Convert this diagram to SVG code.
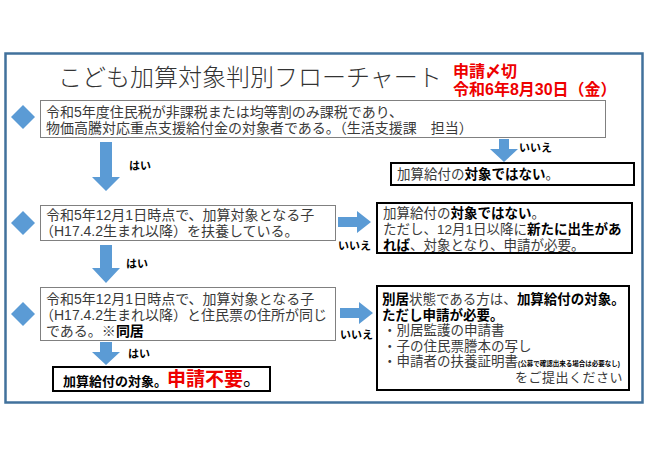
<svg xmlns="http://www.w3.org/2000/svg" width="650" height="459" viewBox="0 0 650 459">
<style>
text{font-family:"Liberation Sans","Noto Sans CJK JP",sans-serif;fill:#3a3a3a;font-size:14px}
.b{font-weight:bold;fill:#000}
.m{font-size:13.5px}
.q{fill:none;stroke:#808080;stroke-width:1}
.k{fill:#fff;stroke:#000;stroke-width:2}
.dia{fill:#5b9bd5}
.arr{fill:#5b9bd5}
.lab{font-size:11px;font-weight:bold;fill:#000}
.red{fill:#ee0000;font-weight:bold}
</style>
<rect width="650" height="459" fill="#fff"/>
<rect x="5.5" y="53.5" width="637" height="349" fill="none" stroke="#41719c" stroke-width="2.5"/>
<g id="title">
<text x="58" y="86" style="font-size:24px;font-weight:300;fill:#333">こども加算対象判別フローチャート</text>
<text x="453" y="77" class="red" style="font-size:16px">申請〆切</text>
<text x="453" y="95" class="red" style="font-size:16px">令和6年8月30日（金）</text>
</g>
<g id="q1">
<path class="dia" d="M23 105 L35 117 L23 129 L11 117 Z"/>
<rect class="q" x="40.5" y="100.5" width="565" height="37"/>
<text x="46" y="117">令和5年度住民税が非課税または均等割のみ課税であり、</text>
<text x="46" y="133">物価高騰対応重点支援給付金の対象者である。（生活支援課　担当）</text>
</g>
<g id="r1">
<rect class="k" x="391" y="163" width="243" height="22"/>
<text x="397" y="179" class="m">加算給付の<tspan class="b">対象ではない</tspan>。</text>
</g>
<g id="q2">
<path class="dia" d="M23 211 L35 223 L23 235 L11 223 Z"/>
<rect class="q" x="40.5" y="205.5" width="295" height="35"/>
<text x="46" y="220">令和5年12月1日時点で、加算対象となる子</text>
<text x="40" y="236">（H17.4.2生まれ以降）を扶養している。</text>
</g>
<g id="r2">
<rect class="k" x="377" y="203" width="255" height="50"/>
<text x="383" y="218" class="m">加算給付の<tspan class="b">対象ではない</tspan>。</text>
<text x="383" y="234" class="m">ただし、12月1日以降に<tspan class="b">新たに出生があ</tspan></text>
<text x="383" y="250" class="m"><tspan class="b">れば</tspan>、対象となり、申請が必要。</text>
</g>
<g id="q3">
<path class="dia" d="M23 302 L35 314 L23 326 L11 314 Z"/>
<rect class="q" x="40.5" y="287.5" width="295" height="53"/>
<text x="46" y="304">令和5年12月1日時点で、加算対象となる子</text>
<text x="40" y="320">（H17.4.2生まれ以降）と住民票の住所が同じ</text>
<text x="46" y="336">である。※<tspan class="b">同居</tspan></text>
</g>
<g id="r3">
<rect class="k" x="377" y="286" width="252" height="104"/>
<text x="382" y="304" class="m"><tspan class="b">別居</tspan>状態である方は、<tspan class="b">加算給付の対象。</tspan></text>
<text x="382" y="319.5" class="m b">ただし申請が必要。</text>
<text x="383" y="335" class="m">・別居監護の申請書</text>
<text x="383" y="350.5" class="m">・子の住民票謄本の写し</text>
<text x="383" y="366" class="m">・申請者の扶養証明書<tspan class="b" style="font-size:6.5px">(公募で確認出来る場合は必要なし)</tspan></text>
<text x="623" y="381.5" text-anchor="end" style="font-size:13px;letter-spacing:0.5px">をご提出ください</text>
</g>
<g id="r4">
<rect class="k" x="53" y="367" width="217" height="24"/>
<text x="63" y="386" class="b" style="font-size:13px">加算給付の対象。<tspan class="red" style="font-size:19px">申請不要</tspan><tspan style="font-size:19px;font-weight:normal">。</tspan></text>
</g>
<g id="connectors">
<path class="arr" d="M100 142 H112 V177 H120 L106 191 L92 177 H100 Z"/>
<text x="129" y="170" class="lab">はい</text>
<path class="arr" d="M499 139 H509 V149 H518 L504 162 L490 149 H499 Z"/>
<text x="519" y="152" class="lab">いいえ</text>
<path class="arr" d="M338 217 H357 V211 L371 222 L357 233 V227 H338 Z"/>
<text x="338" y="250" class="lab">いいえ</text>
<path class="arr" d="M100 245 H112 V268 H120 L106 283 L92 268 H100 Z"/>
<text x="126" y="268" class="lab">はい</text>
<path class="arr" d="M340 308 H359 V302 L373 313 L359 324 V318 H340 Z"/>
<text x="340" y="339" class="lab">いいえ</text>
<path class="arr" d="M100 342 H112 V352 H120 L106 365 L92 352 H100 Z"/>
<text x="128" y="358" class="lab">はい</text>
</g>
</svg>
